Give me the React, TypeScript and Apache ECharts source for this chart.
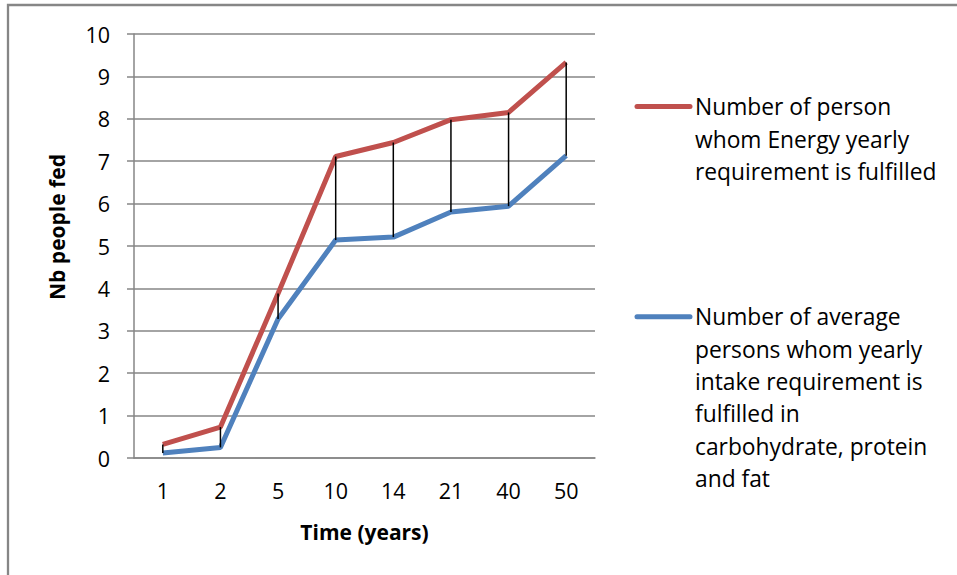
import React, { useEffect, useRef } from "react";
import * as echarts from "echarts";

const categories = ["1", "2", "5", "10", "14", "21", "40", "50"];
const energyFed = [0.32, 0.73, 3.88, 7.11, 7.44, 7.98, 8.15, 9.33];
const macroFed = [0.12, 0.25, 3.28, 5.14, 5.21, 5.8, 5.94, 7.13];
const yTicks = { min: 0, max: 10, interval: 1 };

const energyName = "Number of person whom Energy yearly requirement is fulfilled";
const macroName =
  "Number of average persons whom yearly intake requirement is fulfilled in carbohydrate, protein and fat";
const energyLegendLines = ["Number of person", "whom Energy yearly", "requirement is fulfilled"];
const macroLegendLines = [
  "Number of average",
  "persons whom yearly",
  "intake requirement is",
  "fulfilled in",
  "carbohydrate, protein",
  "and fat",
];

const FONT = "'Open Sans', Lato, sans-serif";
const RED = "#C0504D";
const BLUE = "#4F81BD";
const GREY = "#868686";

export default function App() {
  const ref = useRef<HTMLDivElement>(null);
  useEffect(() => {
    if (!ref.current) return;
    const chart = echarts.init(ref.current, null, { renderer: "svg" });
    const lh = 32.5;
    chart.setOption({
      animation: false,
      backgroundColor: "#ffffff",
      textStyle: { fontFamily: FONT },
      grid: { left: 134, right: 362, top: 34, bottom: 117, containLabel: false },
      xAxis: {
        type: "category",
        data: categories,
        boundaryGap: true,
        axisLine: { show: true, lineStyle: { color: GREY, width: 1.5 } },
        axisTick: { show: false },
        axisLabel: { color: "#000", fontSize: 21.5, fontFamily: FONT, margin: 21 },
        name: "Time (years)",
        nameLocation: "middle",
        nameGap: 63,
        nameTextStyle: { color: "#000", fontSize: 21, fontWeight: "bold", fontFamily: FONT },
      },
      yAxis: {
        type: "value",
        min: yTicks.min,
        max: yTicks.max,
        interval: yTicks.interval,
        axisLine: { show: true, lineStyle: { color: GREY, width: 1.5 } },
        axisTick: { show: true, inside: false, length: 7, lineStyle: { color: GREY, width: 1.5 } },
        axisLabel: { color: "#000", fontSize: 21.5, fontFamily: FONT, margin: 24 },
        splitLine: { show: true, lineStyle: { color: GREY, width: 1.5 } },
        name: "Nb people fed",
        nameLocation: "middle",
        nameGap: 67,
        nameTextStyle: {
          color: "#000",
          fontSize: 21,
          fontWeight: "bold",
          fontFamily: FONT,
          padding: [0, 0, 0, 38],
        },
      },
      series: [
        {
          name: macroName,
          type: "line",
          data: macroFed,
          showSymbol: false,
          symbol: "none",
          lineStyle: { color: BLUE, width: 5 },
          itemStyle: { color: BLUE },
          z: 2,
        },
        {
          name: energyName,
          type: "line",
          data: energyFed,
          showSymbol: false,
          symbol: "none",
          lineStyle: { color: RED, width: 5 },
          itemStyle: { color: RED },
          z: 3,
        },
        {
          name: "High-low lines",
          type: "custom",
          data: categories.map((_, i) => [i, energyFed[i], macroFed[i]]),
          z: 5,
          renderItem: (params: any, api: any) => {
            const p1 = api.coord([api.value(0), api.value(1)]);
            const p2 = api.coord([api.value(0), api.value(2)]);
            return {
              type: "line",
              shape: { x1: p1[0], y1: p1[1], x2: p2[0], y2: p2[1] },
              style: { stroke: "#000", lineWidth: 1.5 },
            };
          },
        },
      ],
      graphic: [
        {
          type: "rect",
          shape: { x: 8, y: 5, width: 1000, height: 1000 },
          style: { fill: "none", stroke: GREY, lineWidth: 2.3 },
          silent: true,
        },
        {
          type: "line",
          shape: { x1: 637, y1: 106.5, x2: 690, y2: 106.5 },
          style: { stroke: RED, lineWidth: 5, lineCap: "round" },
        },
        {
          type: "text",
          x: 695,
          y: 106.8 - lh / 2,
          style: {
            text: energyLegendLines.join("\n"),
            font: `22.8px ${FONT}`,
            fill: "#000",
            lineHeight: lh,
            verticalAlign: "top",
            align: "left",
          },
        },
        {
          type: "line",
          shape: { x1: 637, y1: 316.7, x2: 690, y2: 316.7 },
          style: { stroke: BLUE, lineWidth: 5, lineCap: "round" },
        },
        {
          type: "text",
          x: 695,
          y: 317 - lh / 2,
          style: {
            text: macroLegendLines.join("\n"),
            font: `22.8px ${FONT}`,
            fill: "#000",
            lineHeight: 32.3,
            verticalAlign: "top",
            align: "left",
          },
        },
      ],
    });
    return () => chart.dispose();
  }, []);
  return (
    <div
      ref={ref}
      style={{ position: "absolute", left: 0, top: 0, width: 957, height: 575 }}
    />
  );
}
